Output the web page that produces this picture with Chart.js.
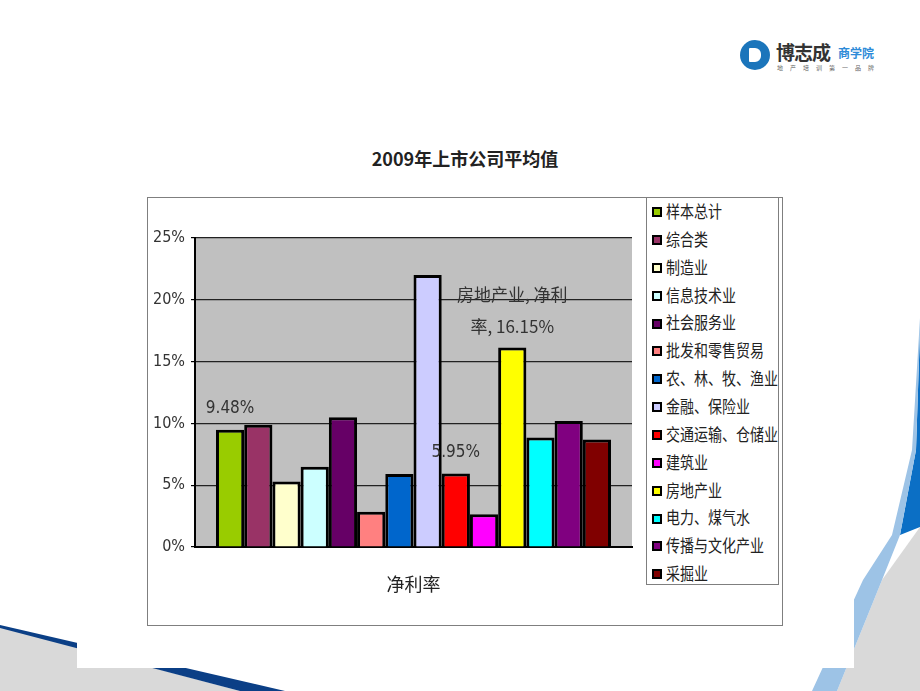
<!DOCTYPE html>
<html lang="zh">
<head>
<meta charset="UTF-8">
<title>2009年上市公司平均值</title>
<script src="https://cdn.jsdelivr.net/npm/chart.js@4.4.1/dist/chart.umd.min.js"></script>
<style>
  html, body { margin: 0; padding: 0; background: #fff; }
  body { width: 920px; height: 691px; position: relative; overflow: hidden; font-family: "Noto Sans CJK SC", sans-serif; }
  #deco { position: absolute; left: 0; top: 0; }
  #sheet { position: absolute; left: 77px; top: 0; width: 777px; height: 668px; background: #fff; }
  #title { position: absolute; left: 0; width: 930px; top: 145px; text-align: center; font-size: 18px; font-weight: bold; color: #222; }
  #frame { position: absolute; left: 147px; top: 197px; width: 636px; height: 429px; border: 1px solid #7f7f7f; box-sizing: border-box; }
  #frame canvas { display: block; }
  #legend { position: absolute; left: 646px; top: 197px; width: 133px; height: 388px; border: 1px solid #7f7f7f; box-sizing: border-box; background: #fff; }
  #legend .item { position: absolute; left: 5px; height: 20px; line-height: 20px; font-size: 14px; color: #222; white-space: nowrap; }
  #legend .box { display: inline-block; width: 6px; height: 6px; border: 2px solid #000; vertical-align: middle; margin-right: 4px; position: relative; top: -1px; }
  #legend .txt { display: inline-block; transform: scaleY(1.2); }
  .logo-mark { position: absolute; left: 740px; top: 40px; width: 30px; height: 30px; border-radius: 50%; background: #1b75bb; }
  .logo-mark:after { content: ""; position: absolute; left: 9px; top: 8px; width: 12px; height: 14px; background: #fff; border-radius: 1px 6px 6px 1px; }
  .logo-name { position: absolute; left: 776px; top: 38px; font-size: 19px; font-weight: bold; color: #333; letter-spacing: -1px; }
  .logo-sub { position: absolute; left: 838px; top: 44px; font-size: 12px; font-weight: bold; color: #2e8bd8; }
  .logo-tag { position: absolute; left: 777px; top: 63px; font-size: 6px; letter-spacing: 7px; color: #666; }
</style>
</head>
<body>
<svg id="deco" width="920" height="691">
  <polygon points="0,627 240,691 0,691" fill="#d9d9d9"/>
  <polygon points="0,625 285,691 240,691 0,628" fill="#0b3f86"/>
  <polygon points="920,527 882,580 837,691 920,691" fill="#d9d9d9"/>
  <polygon points="920,330 916,450 900,535 920,527" fill="#0b6fc5"/>
  <polygon points="920,318 912,450 892,535 863,580 812,691 837,691 882,580 900,535 916,450 920,330" fill="#9dc3e6"/>
</svg>
<div id="sheet"></div>
<div class="logo-mark"></div>
<div class="logo-name">博志成</div>
<div class="logo-sub">商学院</div>
<div class="logo-tag">地产培训第一品牌</div>

<div id="title">2009年上市公司平均值</div>
<div id="frame"><canvas id="c" width="634" height="427"></canvas></div>
<div id="legend"></div>

<script>
// 行业与净利率 (%)
const categories = ['净利率'];
const industries = ['样本总计', '综合类', '制造业', '信息技术业', '社会服务业', '批发和零售贸易',
  '农、林、牧、渔业', '金融、保险业', '交通运输、仓储业', '建筑业', '房地产业', '电力、煤气水',
  '传播与文化产业', '采掘业'];
const netMargin = [9.48, 9.9, 5.3, 6.5, 10.5, 2.85, 5.9, 22.0, 5.95, 2.65, 16.15, 8.85, 10.2, 8.7];
const barColors = ['#99CC00', '#993366', '#FFFFCC', '#CCFFFF', '#660066', '#FF8080', '#0066CC',
  '#CCCCFF', '#FF0000', '#FF00FF', '#FFFF00', '#00FFFF', '#800080', '#800000'];
const yTicks = [0, 5, 10, 15, 20, 25];
// 数据标签: 行业序号 -> 文本行
const labelIndex = [0, 8, 10];
const labelLines = [['9.48%'], ['5.95%'], ['房地产业, 净利', '率, 16.15%']];

// legend
const legend = document.getElementById('legend');
industries.forEach((name, i) => {
  const d = document.createElement('div');
  d.className = 'item';
  d.style.top = (3 + i * 27.85) + 'px';
  d.innerHTML = '<span class="box" style="background:' + barColors[i] + '"></span><span class="txt">' + name + '</span>';
  legend.appendChild(d);
});

const plotBg = {
  id: 'plotBg',
  beforeDraw(chart) {
    const a = chart.chartArea, ctx = chart.ctx;
    ctx.save();
    ctx.fillStyle = '#c0c0c0';
    ctx.fillRect(a.left, a.top, a.right - a.left, a.bottom - a.top);
    ctx.restore();
  }
};

const barLabels = {
  id: 'barLabels',
  afterDatasetsDraw(chart) {
    const ctx = chart.ctx;
    ctx.save();
    ctx.fillStyle = '#333';
    ctx.textAlign = 'center';
    ctx.textBaseline = 'middle';
    labelIndex.forEach((di, k) => {
      const bar = chart.getDatasetMeta(di).data[0];
      const lines = labelLines[k];
      lines.forEach((t, j) => {
        const fromEnd = lines.length - 1 - j;
        ctx.font = /[\u4e00-\u9fff]/.test(t) ? '17px "Noto Sans CJK SC"' : '17px "DejaVu Sans Condensed", "Liberation Sans"';
        ctx.fillText(t, bar.x, bar.y - 21 - fromEnd * 32);
      });
    });
    ctx.restore();
  }
};

new Chart(document.getElementById('c'), {
  type: 'bar',
  data: {
    labels: categories,
    datasets: industries.map((name, i) => ({
      label: name,
      data: [netMargin[i]],
      backgroundColor: barColors[i],
      borderColor: '#000',
      borderWidth: 3,
      categoryPercentage: 0.904,
      barPercentage: 1
    }))
  },
  options: {
    responsive: false,
    animation: false,
    layout: { padding: { left: 0, top: 40, right: 150, bottom: 0 } },
    plugins: { legend: { display: false }, tooltip: { enabled: false } },
    scales: {
      x: {
        grid: { display: false, drawTicks: false },
        border: { display: true, color: '#000', width: 2 },
        ticks: { color: '#222', padding: 26, font: { size: 18, family: '"Noto Sans CJK SC"' } },
        afterFit(s) { s.height = 78; }
      },
      y: {
        min: 0, max: 25,
        afterBuildTicks(s) { s.ticks = yTicks.map(v => ({ value: v })); },
        grid: { color: '#222', lineWidth: 1.2, drawTicks: true, tickLength: 4, tickColor: '#000' },
        border: { display: true, color: '#000', width: 2 },
        ticks: {
          color: '#333', padding: 6,
          font: { size: 16, family: '"DejaVu Sans Condensed", "Liberation Sans"' },
          callback: v => v + '%'
        },
        afterFit(s) { s.width = 47; }
      }
    }
  },
  plugins: [plotBg, barLabels]
});
</script>
</body>
</html>
